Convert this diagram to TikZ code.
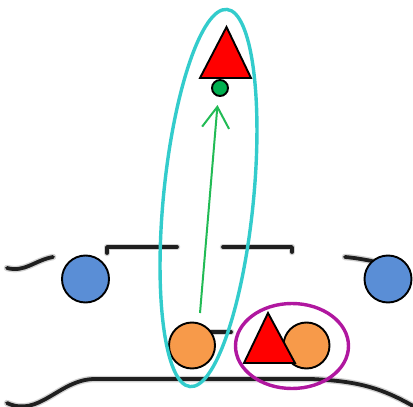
\documentclass[tikz,border=0pt]{standalone}
\usetikzlibrary{arrows.meta}
\definecolor{cblue}{HTML}{5A8ED6}
\definecolor{corange}{HTML}{F79A4A}
\definecolor{cred}{HTML}{FF0000}
\definecolor{cgreen}{HTML}{00B050}
\definecolor{carrow}{HTML}{22BB55}
\definecolor{ccyan}{HTML}{33CCCC}
\definecolor{cmag}{HTML}{B0179F}
\tikzset{
  sketch/.style={line width=3.8pt, black!88, line cap=round, line join=round},
  sketchblur/.style={line width=6.5pt, black!35, opacity=0.5, line cap=round, line join=round},
  disc/.style={circle, draw=black, line width=1.9pt, inner sep=0pt, minimum size=#1},
  tri/.style={fill=cred, draw=black, line width=1.9pt, line join=miter},
  ring/.style={line width=3.4pt},
}
\begin{document}
\begin{tikzpicture}[x=1pt,y=-1pt]
\useasboundingbox (0,0) rectangle (413,407);
% background line sketch
\foreach \s in {sketchblur,sketch}{
  \draw[\s] (107,253) -- (107,247) -- (177,247);
  \draw[\s] (223,247) -- (292,247) -- (292,252);
  \draw[\s] (7,268) to[out=-15,in=190] (53,257);
  \draw[\s] (345,257) to[out=-5,in=170] (372,261);
  \draw[\s] (195,332) -- (231,332);
  \draw[\s] (7,403) to[out=-25,in=180] (95,379) -- (312,379) to[out=-3,in=150] (413,406);
}
% circles
\node[disc=47pt, fill=cblue] (blueL) at (85.5,279) {};
\node[disc=47pt, fill=cblue] (blueR) at (388,279) {};
\node[disc=46pt, fill=corange] (orangeL) at (192,345.5) {};
\node[disc=46pt, fill=corange] (orangeR) at (306.5,345.5) {};
% triangles
\coordinate (triB) at (269.5,346);
\draw[tri] (268,313) -- (295,363) -- (244,363) -- cycle;
\coordinate (triT) at (225.5,61);
\draw[tri] (226.5,27) -- (251,78) -- (200,78) -- cycle;
\node[disc=16pt, fill=cgreen] (dot) at (220,88) {};
% arrow
\coordinate (a0) at (200,313);
\coordinate (a1) at (217.5,105);
\draw[carrow, line width=2pt, -{Straight Barb[length=21pt,width=27pt,line width=2pt]}] (a0) -- (a1);
% ellipses
\coordinate (ce) at (208.5,198);
\draw[ccyan, ring, rotate around={-5.6:(ce)}] (ce) ellipse (45 and 189.5);
\coordinate (me) at (292,346);
\draw[cmag, ring] (me) ellipse (56.5 and 42.5);
\end{tikzpicture}
\end{document}
